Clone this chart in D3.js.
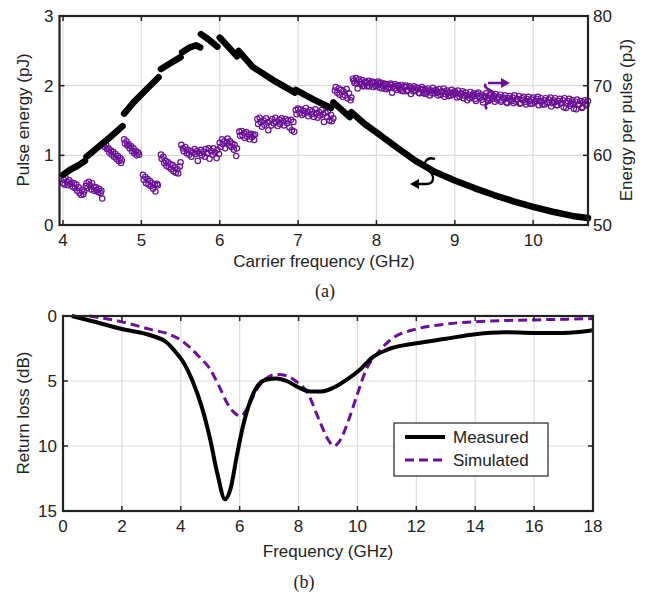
<!DOCTYPE html>
<html>
<head>
<meta charset="utf-8">
<script src="https://cdn.jsdelivr.net/npm/d3@7"></script>
<style>
  body { margin: 0; background: #fff; }
  text { font-family: Arial, "Liberation Sans", sans-serif; fill: #222; }
</style>
</head>
<body>
<div id="vis"></div>
<script>
const WIDTH = 648;
const HEIGHT = 595;
const PURPLE = '#6a0f96';
const FS = 17;

// (a) carrier frequency ticks and axis ticks
const carrierTicks = [4, 5, 6, 7, 8, 9, 10];
const pulseTicks = [0, 1, 2, 3];
const perPulseTicks = [50, 60, 70, 80];

// (a) pulse energy (pJ), black, drawn as short segments [GHz, pJ]
const pulseSegments = [
  [[4.00, 0.72], [4.10, 0.80], [4.20, 0.86], [4.28, 0.92]],
  [[4.30, 0.98], [4.45, 1.12], [4.60, 1.26], [4.76, 1.42]],
  [[4.78, 1.60], [4.90, 1.76], [5.05, 1.93], [5.22, 2.12]],
  [[5.25, 2.24], [5.38, 2.33], [5.50, 2.41]],
  [[5.52, 2.48], [5.62, 2.55], [5.70, 2.58], [5.75, 2.55]],
  [[5.76, 2.74], [5.85, 2.67], [5.97, 2.56]],
  [[6.00, 2.69], [6.10, 2.57], [6.22, 2.42]],
  [[6.24, 2.50], [6.42, 2.27], [6.68, 2.08], [6.96, 1.90]],
  [[6.97, 1.94], [7.20, 1.80], [7.42, 1.68]],
  [[7.45, 1.76], [7.55, 1.66], [7.66, 1.55]],
  [[7.68, 1.62], [7.85, 1.45], [8.00, 1.33], [8.25, 1.12], [8.50, 0.92], [8.75, 0.76],
   [9.00, 0.64], [9.25, 0.53], [9.50, 0.43], [9.75, 0.34], [10.00, 0.26], [10.25, 0.19],
   [10.50, 0.13], [10.70, 0.10]]
];

// (a) energy per pulse (pJ), purple circles, below 7.7 GHz [GHz, pJ]
const perPulseLow = [
  [4.00,56.0],[4.01,56.5],[4.02,55.8],[4.03,56.8],[4.05,56.2],[4.06,55.7],[4.08,56.4],[4.09,55.9],
  [4.11,56.1],[4.12,55.5],[4.14,56.0],[4.15,55.3],[4.17,55.8],[4.18,54.9],[4.20,55.4],[4.21,54.6],
  [4.23,54.3],[4.24,55.0],[4.26,54.4],[4.27,54.8],[4.29,55.6],[4.30,56.0],[4.31,55.3],[4.33,56.2],
  [4.34,55.7],[4.36,55.1],[4.37,56.0],[4.39,55.5],[4.40,54.9],[4.42,55.4],[4.43,55.0],[4.45,54.7],
  [4.46,55.2],[4.48,54.6],[4.49,54.9],[4.50,53.8],
  [4.52,61.8],[4.53,61.2],[4.55,61.5],[4.56,60.9],[4.58,61.0],[4.59,60.4],[4.61,60.7],[4.62,60.1],
  [4.64,60.5],[4.65,59.8],[4.67,60.2],[4.68,59.5],[4.70,59.9],[4.71,59.2],[4.73,59.6],[4.74,58.9],[4.75,59.3],
  [4.78,62.3],[4.79,61.7],[4.81,62.0],[4.82,61.4],[4.84,61.6],[4.85,61.0],[4.87,61.3],[4.88,60.6],
  [4.90,61.0],[4.91,60.3],[4.93,60.6],[4.94,60.0],[4.96,60.4],[4.97,60.1],
  [5.02,57.2],[5.03,56.5],[5.05,56.9],[5.06,56.0],[5.08,56.6],[5.09,55.8],[5.11,56.3],[5.12,55.6],
  [5.14,56.0],[5.15,55.2],[5.17,55.8],[5.18,54.8],[5.20,55.9],[5.21,55.7],
  [5.25,60.1],[5.26,59.5],[5.28,59.8],[5.29,58.9],[5.31,59.2],[5.32,58.5],[5.34,59.0],[5.35,58.3],
  [5.37,58.7],[5.38,58.0],[5.40,58.6],[5.41,57.7],[5.43,58.3],[5.44,57.5],[5.46,58.0],[5.47,57.4],
  [5.49,58.4],[5.50,59.0],
  [5.51,61.5],[5.53,61.0],[5.54,60.6],[5.56,61.2],[5.58,60.3],[5.59,60.8],[5.61,60.1],[5.63,60.6],
  [5.64,59.8],[5.66,60.4],[5.68,60.9],[5.69,60.2],[5.71,60.6],[5.72,59.2],[5.74,60.3],[5.76,60.8],
  [5.77,60.0],[5.79,60.5],[5.81,59.8],[5.82,60.9],[5.84,60.3],[5.86,61.0],[5.87,59.5],[5.89,60.6],
  [5.91,60.1],[5.92,61.0],[5.94,60.4],[5.96,59.6],[5.97,60.8],[5.99,60.2],
  [6.00,61.8],[6.01,61.2],[6.03,62.3],[6.04,61.6],[6.06,62.0],[6.07,61.0],[6.09,61.8],[6.10,62.4],
  [6.12,61.4],[6.13,62.0],[6.15,61.2],[6.16,61.7],[6.18,60.8],[6.19,61.5],[6.21,59.9],[6.22,61.0],
  [6.25,63.4],[6.26,62.8],[6.28,63.5],[6.29,62.9],[6.31,63.2],[6.32,62.5],[6.34,63.3],[6.35,62.7],
  [6.37,63.0],[6.38,62.3],[6.40,63.1],[6.41,62.6],[6.43,62.9],[6.44,62.2],[6.45,63.0],
  [6.48,65.2],[6.49,64.5],[6.51,65.4],[6.52,64.8],[6.54,64.1],[6.56,65.0],[6.57,64.4],[6.59,65.3],
  [6.61,64.7],[6.62,63.6],[6.64,64.9],[6.66,64.3],[6.67,65.2],[6.69,64.6],[6.71,65.4],[6.72,64.8],
  [6.74,64.2],[6.76,65.1],[6.77,64.5],[6.79,65.3],[6.81,64.9],[6.82,64.3],[6.84,65.2],[6.86,64.6],
  [6.87,65.0],[6.89,64.0],[6.91,65.1],[6.92,63.6],[6.94,64.8],[6.95,63.4],
  [6.97,66.5],[6.98,65.9],[7.00,66.7],[7.02,66.1],[7.03,66.6],[7.05,65.8],[7.07,66.4],[7.08,66.0],
  [7.10,66.8],[7.12,66.2],[7.13,65.6],[7.15,66.5],[7.17,65.9],[7.18,66.3],[7.20,65.5],[7.22,66.6],
  [7.23,66.0],[7.25,65.4],[7.27,66.2],[7.28,65.7],[7.30,66.5],[7.32,65.9],[7.33,64.8],[7.35,66.1],
  [7.37,65.5],[7.38,66.3],[7.40,65.0],[7.42,65.8],[7.43,64.9],[7.45,65.3],
  [7.47,69.3],[7.48,69.8],[7.50,69.0],[7.52,69.6],[7.53,68.7],[7.55,69.4],[7.57,68.4],[7.58,69.2],
  [7.60,68.6],[7.62,69.5],[7.63,68.2],[7.65,68.9],[7.67,67.9],[7.68,68.3]
];

// (a) energy per pulse, main band from 7.7 GHz
const perPulseHigh = [
  [7.70,71.0],[7.72,70.4],[7.74,71.1],[7.76,69.6],[7.78,70.9],[7.80,70.2],[7.82,70.8],[7.84,70.0],
  [7.86,70.6],[7.88,69.9],[7.90,70.7],[7.92,70.3],[7.94,70.6],[7.96,69.8],[7.98,70.5],[8.00,70.1],
  [8.02,70.6],[8.04,69.7],[8.06,70.4],[8.08,70.0],[8.10,70.3],[8.12,69.5],[8.14,70.2],[8.16,69.8],
  [8.18,70.3],[8.20,69.0],[8.22,69.9],[8.24,70.2],[8.26,69.4],[8.28,70.0],[8.30,69.6],[8.32,70.1],
  [8.34,69.2],[8.36,69.8],[8.38,70.0],[8.40,69.4],[8.42,69.9],[8.44,68.8],[8.46,69.6],[8.48,69.9],
  [8.50,69.3],[8.52,69.7],[8.54,69.0],[8.56,69.5],[8.58,69.8],[8.60,68.9],[8.62,69.5],[8.64,69.1],
  [8.66,69.6],[8.68,68.6],[8.70,69.3],[8.72,69.7],[8.74,68.9],[8.76,69.4],[8.78,69.0],[8.80,69.5],
  [8.82,68.7],[8.84,69.2],[8.86,69.6],[8.88,68.8],[8.90,69.3],[8.92,68.5],[8.94,69.0],[8.96,69.4],
  [8.98,68.7],[9.00,69.2],[9.02,68.9],[9.04,69.3],[9.06,68.4],[9.08,68.9],[9.10,69.2],[9.12,68.6],
  [9.14,69.0],[9.16,67.9],[9.18,68.7],[9.20,69.1],[9.22,68.4],[9.24,68.9],[9.26,68.1],[9.28,68.8],
  [9.30,69.0],[9.32,68.3],[9.34,68.7],[9.36,67.6],[9.38,68.5],[9.40,68.9],[9.42,68.2],[9.44,68.6],
  [9.46,68.9],[9.48,68.1],[9.50,68.5],[9.52,68.8],[9.54,68.0],[9.56,68.4],[9.58,68.7],[9.60,67.9],
  [9.62,68.3],[9.64,68.6],[9.66,67.6],[9.68,68.2],[9.70,68.5],[9.72,67.8],[9.74,68.3],[9.76,68.6],
  [9.78,67.7],[9.80,68.1],[9.82,68.5],[9.84,67.5],[9.86,68.2],[9.88,68.4],[9.90,67.7],[9.92,68.1],
  [9.94,68.4],[9.96,67.4],[9.98,68.0],[10.00,68.3],[10.02,67.6],[10.04,68.1],[10.06,68.4],[10.08,67.8],
  [10.10,68.2],[10.12,67.3],[10.14,67.9],[10.16,68.2],[10.18,67.6],[10.20,68.0],[10.22,68.3],[10.24,67.5],
  [10.26,67.9],[10.28,68.2],[10.30,67.2],[10.32,67.8],[10.34,68.1],[10.36,67.5],[10.38,67.9],[10.40,68.2],
  [10.42,66.8],[10.44,67.8],[10.46,68.1],[10.48,67.4],[10.50,67.9],[10.52,66.7],[10.54,67.7],[10.56,68.0],
  [10.58,67.3],[10.60,67.8],[10.62,66.8],[10.64,67.6],[10.66,67.9],[10.68,67.2],[10.70,67.8],
  [7.71,70.7],[7.75,70.3],[7.79,70.5],[7.83,69.9],[7.87,70.4],[7.91,69.9],[7.95,70.4],[7.99,69.9],
  [8.03,70.3],[8.07,69.6],[8.11,70.2],[8.15,69.6],[8.19,70.1],[8.23,69.6],[8.27,70.0],[8.31,69.3],
  [8.35,69.9],[8.39,69.2],[8.43,69.7],[8.47,69.2],[8.51,69.7],[8.55,68.9],[8.59,69.4],[8.63,68.8],
  [8.67,69.3],[8.71,68.9],[8.75,69.2],[8.79,68.6],[8.83,69.1],[8.87,68.4],[8.91,69.0],[8.95,68.6],
  [8.99,69.0],[9.03,68.3],[9.07,68.8],[9.11,68.2],[9.15,68.6],[9.19,68.2],[9.23,68.6],[9.27,67.8],
  [9.31,68.5],[9.35,68.0],[9.39,68.4],[9.43,67.8],[9.47,68.3],[9.51,67.7],[9.55,68.2],[9.59,67.7],
  [9.63,68.1],[9.67,67.5],[9.71,68.0],[9.75,67.5],[9.79,68.0],[9.83,67.4],[9.87,67.9],[9.91,67.3],
  [9.95,67.8],[9.99,67.4],[10.03,67.8],[10.07,67.2],[10.11,67.7],[10.15,67.3],[10.19,67.6],[10.23,67.0],
  [10.27,67.6],[10.31,67.2],[10.35,67.5],[10.39,66.9],[10.43,67.5],[10.47,67.1],[10.51,67.4],[10.55,66.6],
  [10.59,67.3],[10.63,66.9],[10.67,67.4]
];

// (b) return loss
const freqTicks = [0, 2, 4, 6, 8, 10, 12, 14, 16, 18];
const lossTicks = [0, 5, 10, 15];
const measured = [
  [0.3,0],[1.0,0.4],[2.0,1.0],[3.0,1.5],[3.5,2.0],[3.8,2.7],[4.1,3.6],[4.4,5.0],[4.7,6.9],
  [5.0,9.5],[5.25,12.2],[5.5,14.1],[5.7,13.2],[5.9,10.8],[6.1,8.6],[6.35,6.6],[6.6,5.4],
  [6.9,4.9],[7.25,4.8],[7.6,5.0],[8.0,5.5],[8.4,5.8],[8.8,5.8],[9.2,5.5],[9.64,4.9],[10.1,4.1],
  [10.5,3.2],[11.0,2.6],[12.0,2.1],[13.0,1.75],[14.0,1.4],[15.0,1.25],[16.0,1.3],[17.0,1.3],[18.0,1.1]
];
const simulated = [
  [0.9,0],[2.0,0.45],[3.0,1.05],[3.6,1.4],[4.0,1.85],[4.3,2.4],[4.65,3.2],[5.0,4.1],[5.3,5.4],
  [5.6,6.8],[5.85,7.5],[6.05,7.7],[6.3,6.9],[6.6,5.6],[6.9,4.8],[7.25,4.5],[7.6,4.6],[7.9,5.0],
  [8.3,5.9],[8.7,8.0],[9.0,9.5],[9.2,10.0],[9.4,9.6],[9.7,8.0],[10.0,6.0],[10.3,4.1],[10.7,2.8],
  [11.2,1.7],[12.0,1.0],[13.0,0.62],[14.4,0.4],[16.0,0.3],[18.0,0.2]
];
const legendNames = ['Measured', 'Simulated'];

const svg = d3.select('#vis').append('svg')
  .attr('width', WIDTH).attr('height', HEIGHT);
svg.append('rect').attr('width', WIDTH).attr('height', HEIGHT).attr('fill', '#fff');

// grid lines behind the data
function drawGrid(g, x, y, xt, yt) {
  const [x0, x1] = x.range();
  const [y0, y1] = y.range().slice().sort((a, b) => a - b);
  g.append('g').selectAll('line').data(xt).join('line')
    .attr('x1', d => x(d)).attr('x2', d => x(d)).attr('y1', y0).attr('y2', y1)
    .attr('stroke', '#dcdcdc').attr('stroke-width', 1.2);
  g.append('g').selectAll('line').data(yt).join('line')
    .attr('y1', d => y(d)).attr('y2', d => y(d)).attr('x1', x0).attr('x2', x1)
    .attr('stroke', '#dcdcdc').attr('stroke-width', 1.2);
}
// box, inward ticks and tick labels
function drawBox(g, x, y, xt, yt, yRight, yrt) {
  const [x0, x1] = x.range();
  const [y0, y1] = y.range().slice().sort((a, b) => a - b);
  const tk = 5;
  g.append('g').selectAll('path').data(xt).join('path')
    .attr('d', d => `M${x(d)},${y1}v${-tk}M${x(d)},${y0}v${tk}`)
    .attr('stroke', '#222').attr('stroke-width', 1.5);
  g.append('g').selectAll('path').data(yt).join('path')
    .attr('d', d => yRight ? `M${x0},${y(d)}h${tk}` : `M${x0},${y(d)}h${tk}M${x1},${y(d)}h${-tk}`)
    .attr('stroke', '#222').attr('stroke-width', 1.5);
  if (yRight) {
    g.append('g').selectAll('path').data(yrt).join('path')
      .attr('d', d => `M${x1},${yRight(d)}h${-tk}`)
      .attr('stroke', '#222').attr('stroke-width', 1.5);
  }
  g.append('rect').attr('x', x0).attr('y', y0).attr('width', x1 - x0).attr('height', y1 - y0)
    .attr('fill', 'none').attr('stroke', '#222').attr('stroke-width', 2.2);
  g.append('g').selectAll('text').data(xt).join('text')
    .attr('x', d => x(d)).attr('y', y1 + 21).attr('text-anchor', 'middle')
    .attr('font-size', FS).text(d => d);
  g.append('g').selectAll('text').data(yt).join('text')
    .attr('x', x0 - 6).attr('y', d => y(d)).attr('dy', '0.35em').attr('text-anchor', 'end')
    .attr('font-size', FS).text(d => d);
  if (yRight) {
    g.append('g').selectAll('text').data(yrt).join('text')
      .attr('x', x1 + 5).attr('y', d => yRight(d)).attr('dy', '0.35em').attr('text-anchor', 'start')
      .attr('font-size', FS).text(d => d);
  }
}

// ---------- (a) ----------
const xA = d3.scaleLinear().domain([3.955, 10.7]).range([59.5, 588]);
const yA = d3.scaleLinear().domain([0, 3]).range([225, 16]);
const yA2 = d3.scaleLinear().domain([50, 80]).range([225, 16]);
const gA = svg.append('g');
drawGrid(gA, xA, yA, carrierTicks, pulseTicks);

gA.append('g').selectAll('circle').data(perPulseLow.concat(perPulseHigh)).join('circle')
  .attr('cx', d => xA(d[0])).attr('cy', d => yA2(d[1])).attr('r', 2.7)
  .attr('fill', 'none').attr('stroke', PURPLE).attr('stroke-width', 1.2);

const lineA = d3.line().x(d => xA(d[0])).y(d => yA(d[1]));
gA.append('g').selectAll('path').data(pulseSegments).join('path')
  .attr('d', lineA).attr('fill', 'none').attr('stroke', '#000')
  .attr('stroke-width', 6.5).attr('stroke-linecap', 'round').attr('stroke-linejoin', 'round');

drawBox(gA, xA, yA, carrierTicks, pulseTicks, yA2, perPulseTicks);

// curly arrows
gA.append('path').attr('d', 'M435,159 C426,156 421,165 428,170 C435,175 435,184 426,184 L417,184')
  .attr('fill', 'none').attr('stroke', '#000').attr('stroke-width', 2.3);
gA.append('path').attr('d', 'M410,184 L419,179 L419,189 Z').attr('fill', '#000');
gA.append('path').attr('d', 'M486,84 C481,89 497,90 494,97 C491,103 482,104 487,109 M488,83 L502,83')
  .attr('fill', 'none').attr('stroke', PURPLE).attr('stroke-width', 2.5);
gA.append('path').attr('d', 'M510,83 L501,78 L501,88 Z').attr('fill', PURPLE);

gA.append('text').attr('transform', 'translate(29,120) rotate(-90)').attr('text-anchor', 'middle')
  .attr('font-size', FS).text('Pulse energy (pJ)');
gA.append('text').attr('transform', 'translate(632,120) rotate(-90)').attr('text-anchor', 'middle')
  .attr('font-size', FS).text('Energy per pulse (pJ)');
gA.append('text').attr('x', 324).attr('y', 267).attr('text-anchor', 'middle')
  .attr('font-size', FS).text('Carrier frequency (GHz)');
svg.append('text').attr('x', 325).attr('y', 297).attr('text-anchor', 'middle')
  .attr('font-size', 18).style('font-family', '"Liberation Serif", "Times New Roman", serif').text('(a)');

// ---------- (b) ----------
const xB = d3.scaleLinear().domain([0, 18]).range([63, 593]);
const yB = d3.scaleLinear().domain([0, 15]).range([316, 511]);
const gB = svg.append('g');
drawGrid(gB, xB, yB, freqTicks, lossTicks);

const lineB = d3.line().x(d => xB(d[0])).y(d => yB(d[1])).curve(d3.curveMonotoneX);
gB.append('path').datum(simulated).attr('d', lineB).attr('fill', 'none')
  .attr('stroke', PURPLE).attr('stroke-width', 3).attr('stroke-dasharray', '9,5');
gB.append('path').datum(measured).attr('d', lineB).attr('fill', 'none')
  .attr('stroke', '#000').attr('stroke-width', 4);

drawBox(gB, xB, yB, freqTicks, lossTicks);

gB.append('text').attr('transform', 'translate(29,413) rotate(-90)').attr('text-anchor', 'middle')
  .attr('font-size', FS).text('Return loss (dB)');
gB.append('text').attr('x', 328).attr('y', 557).attr('text-anchor', 'middle')
  .attr('font-size', FS).text('Frequency (GHz)');
svg.append('text').attr('x', 304).attr('y', 588).attr('text-anchor', 'middle')
  .attr('font-size', 18).style('font-family', '"Liberation Serif", "Times New Roman", serif').text('(b)');

// legend
const lg = gB.append('g').attr('transform', 'translate(394,423)');
lg.append('rect').attr('width', 154).attr('height', 53).attr('fill', '#fff')
  .attr('stroke', '#222').attr('stroke-width', 1.2);
lg.selectAll('g.item').data(legendNames).join('g').attr('class', 'item')
  .attr('transform', (d, i) => `translate(0,${14 + i * 23})`)
  .each(function (d, i) {
    const it = d3.select(this);
    it.append('line').attr('x1', 11).attr('x2', 51).attr('y1', 0).attr('y2', 0)
      .attr('stroke', i === 0 ? '#000' : PURPLE).attr('stroke-width', i === 0 ? 4 : 3)
      .attr('stroke-dasharray', i === 0 ? null : '9,5');
    it.append('text').attr('x', 59).attr('y', 0).attr('dy', '0.35em')
      .attr('font-size', FS).text(d);
  });
</script>
</body>
</html>
